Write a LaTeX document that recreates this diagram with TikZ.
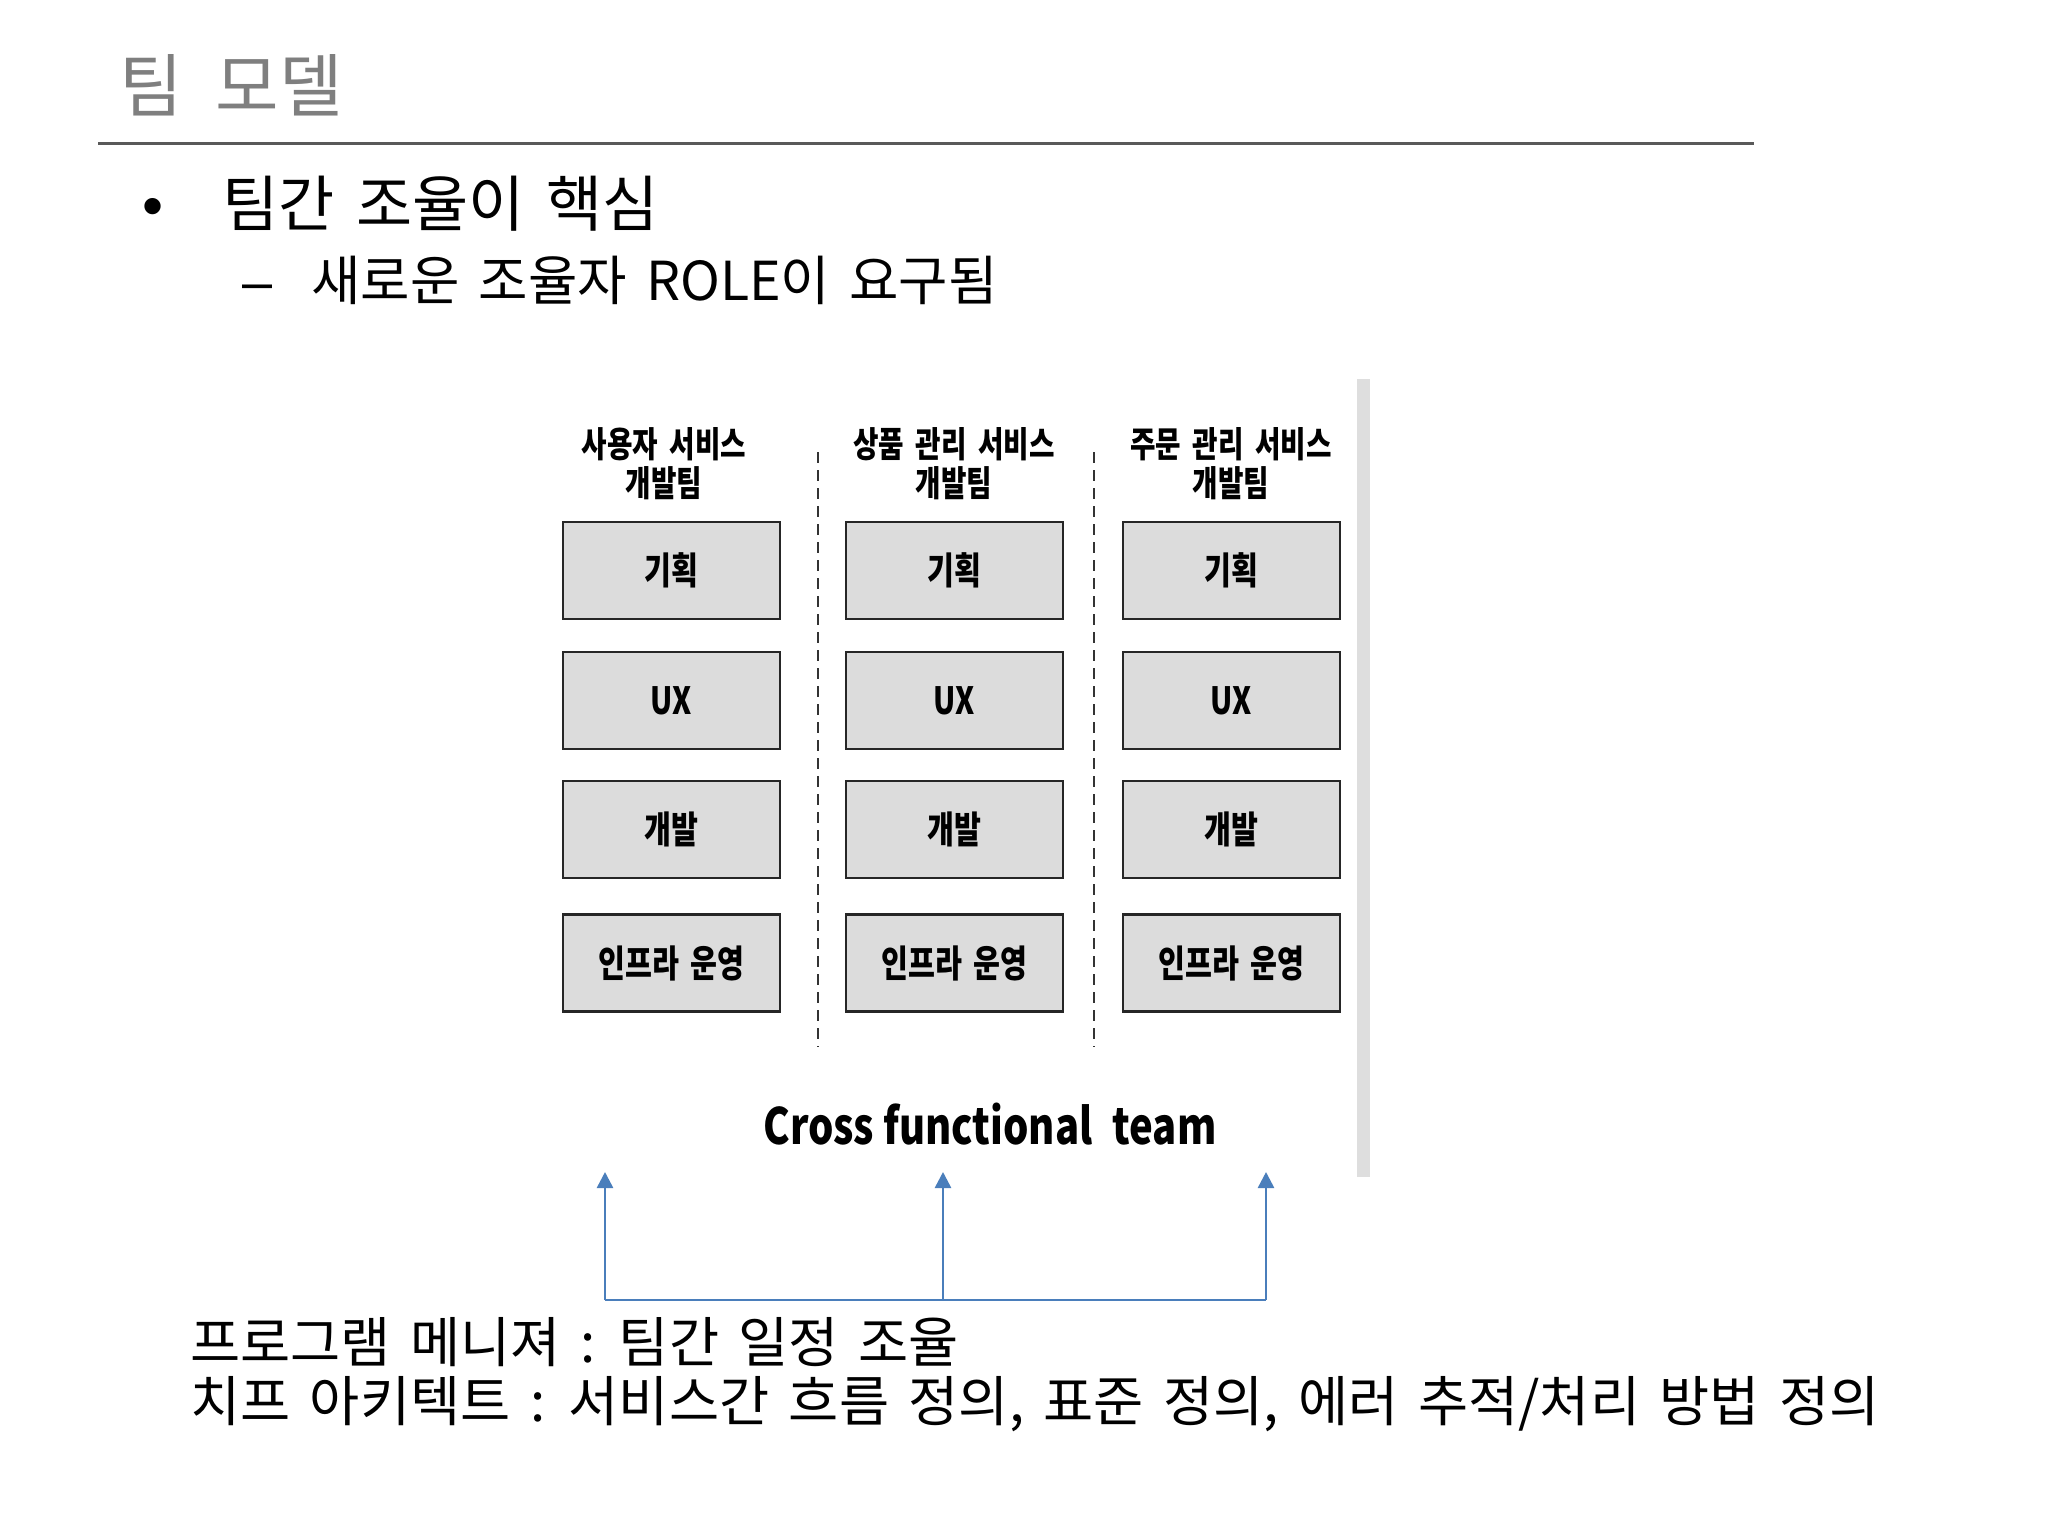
\documentclass[tikz,border=0pt]{standalone}
\usepackage{fontspec}
\setmainfont{Noto Sans CJK KR}
\newfontfamily\krfont{Noto Sans CJK KR}
\newfontfamily\krwide[WordSpace=1.6]{Noto Sans CJK KR}
\newfontfamily\krcond[FakeStretch=0.78,WordSpace=1.8]{Noto Sans CJK KR}
\newfontfamily\crossfam[FakeStretch=0.8]{Noto Sans CJK KR}
\newfontfamily\latfont{Liberation Sans}
\usetikzlibrary{arrows.meta}
\definecolor{titlegray}{HTML}{7F7F7F}
\definecolor{rulegray}{HTML}{595959}
\definecolor{boxgray}{HTML}{DCDCDC}
\definecolor{bargray}{HTML}{DEDEDE}
\definecolor{linkblue}{HTML}{4A7EBB}
\newcommand\cellfnt{\krcond\bfseries\fontsize{37.5}{44}\selectfont}
\newcommand\hdrfnt{\krcond\bfseries\fontsize{35.5}{39}\selectfont}
\begin{document}
\begin{tikzpicture}[x=1pt,y=-1pt,
  txt/.style={inner sep=0pt, anchor=west},
  cell/.style={draw=black!85, line width=2.6pt, fill=boxgray, minimum width=217pt, minimum height=97pt, inner sep=0pt, font=\cellfnt},
  hdr/.style={align=center, inner sep=0pt, font=\hdrfnt},
  sepline/.style={draw=black!80, line width=2pt, dash pattern=on 11pt off 7pt},
  link/.style={draw=linkblue, line width=2.6pt},
  linkarrow/.style={link, -{Triangle[length=16pt,width=16pt]}},
]
\useasboundingbox (0,0) rectangle (2048,1536);
\fill[white] (0,0) rectangle (2048,1536);

% title and rule
\node[txt, text=titlegray, font=\krfont\fontsize{69}{78}\selectfont] (title) at (119,85) {팀\hspace{0.48em}모델};
\coordinate (ruleL) at (98,144);
\coordinate (ruleR) at (1754,144);
\draw[rulegray, line width=3pt] (ruleL) -- (ruleR);

% bullets
\node[inner sep=0pt, font=\latfont\fontsize{60}{66}\selectfont] (b1) at (153,212) {•};
\node[txt, font=\krwide\fontsize{61}{72}\selectfont] (l1) at (222,204) {팀간 조율이 핵심};
\node[inner sep=0pt, font=\latfont\fontsize{54}{60}\selectfont] (b2) at (258,293) {–};
\node[txt, font=\krwide\fontsize{53.7}{64}\selectfont] (l2) at (311,280) {새로운 조율자 ROLE이 요구됨};

% right gray bar of the embedded figure
\fill[bargray] (1357,379) rectangle (1370,1177);

% headers
\node[hdr] (h1) at (664,464) {사용자 서비스\\개발팀};
\node[hdr] (h2) at (954,464) {상품 관리 서비스\\개발팀};
\node[hdr] (h3) at (1231,464) {주문 관리 서비스\\개발팀};

% cells
\foreach \c/\x in {1/671.5,2/954.5,3/1231.5}{
  \node[cell] (p\c) at (\x,570.5) {기획};
  \node[cell] (u\c) at (\x,700.5) {UX};
  \node[cell] (d\c) at (\x,829.5) {개발};
  \node[cell] (o\c) at (\x,963) {인프라 운영};
}

% dashed separators
\coordinate (s1t) at (818,452);
\coordinate (s1b) at (818,1047);
\coordinate (s2t) at (1094,452);
\coordinate (s2b) at (1094,1047);
\draw[sepline] (s1t) -- (s1b);
\draw[sepline] (s2t) -- (s2b);

% cross functional team
\node[inner sep=0pt, font=\crossfam\bfseries\fontsize{50}{58}\selectfont] (cft) at (990,1124) {Cross functional\hspace{0.4em}team};

% blue connectors
\coordinate (busL) at (605,1300);
\coordinate (busM) at (943,1300);
\coordinate (busR) at (1266,1300);
\coordinate (tipL) at (605,1172);
\coordinate (tipM) at (943,1172);
\coordinate (tipR) at (1266,1172);
\draw[link] (busL) -- (busR);
\draw[linkarrow] (busL) -- (tipL);
\draw[linkarrow] (busM) -- (tipM);
\draw[linkarrow] (busR) -- (tipR);

% bottom text
\node[txt, font=\krwide\fontsize{54.5}{64}\selectfont] (pm) at (190,1342) {프로그램 메니져 : 팀간 일정 조율};
\node[txt, font=\krwide\fontsize{54.5}{64}\selectfont] (ca) at (190,1404) {치프 아키텍트 : 서비스간 흐름 정의, 표준 정의, 에러 추적/처리 방법 정의};
\end{tikzpicture}
\end{document}
